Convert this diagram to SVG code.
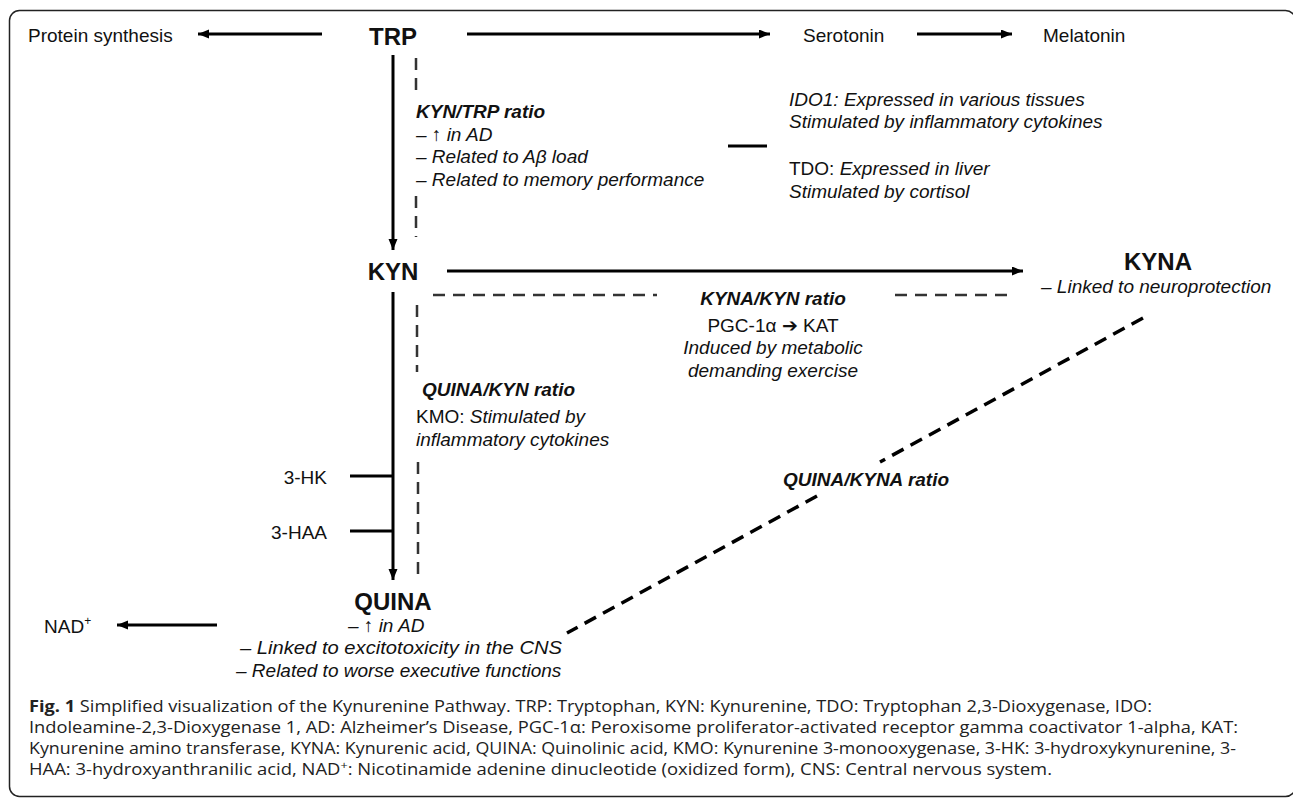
<svg xmlns="http://www.w3.org/2000/svg" width="1293" height="799" viewBox="0 0 1293 799">
<defs>
<marker id="ah" markerUnits="userSpaceOnUse" markerWidth="12" markerHeight="10" refX="11" refY="4.5" orient="auto">
<path d="M0,0 L11,4.5 L0,9 z" fill="#000"/>
</marker>
<style>
.t{font-family:"Liberation Sans",Arial,sans-serif;font-size:19px;fill:#111}
.b{font-weight:bold;font-size:24px}
.i{font-style:italic}
.bi{font-style:italic;font-weight:bold}
.n{font-style:normal}
.cap{font-family:"Open Sans","Noto Sans",sans-serif;font-size:16px;fill:#222}
.ln{stroke:#000;stroke-width:3;fill:none}
.arr{stroke:#000;stroke-width:3;fill:none;marker-end:url(#ah)}
.dsh{stroke:#333;stroke-width:2.5;fill:none;stroke-dasharray:12 8}
.dg{stroke:#000;stroke-width:3.5;fill:none;stroke-dasharray:13 8}
</style>
</defs>
<rect x="9.5" y="10.5" width="1286" height="786" rx="10" fill="#fff" stroke="#222" stroke-width="1.5"/>

<g id="connectors">
<line class="arr" x1="322" y1="34" x2="198" y2="34"/>
<line class="arr" x1="467" y1="34" x2="770" y2="34"/>
<line class="arr" x1="917" y1="34" x2="1012" y2="34"/>
<line class="arr" x1="393" y1="55" x2="393" y2="250"/>
<line class="dsh" x1="416" y1="58" x2="416" y2="96"/>
<line class="dsh" x1="416" y1="196" x2="416" y2="237"/>
<line class="ln" x1="728" y1="146" x2="767" y2="146"/>
<line class="arr" x1="447" y1="271" x2="1023" y2="271"/>
<line class="dsh" x1="433" y1="295" x2="657" y2="295"/>
<line class="dsh" x1="895" y1="295" x2="1012" y2="295"/>
<line class="arr" x1="393" y1="292" x2="393" y2="580"/>
<line class="dsh" x1="417" y1="305" x2="417" y2="372"/>
<line class="dsh" x1="418" y1="462" x2="418" y2="580"/>
<line class="ln" x1="350" y1="476" x2="393" y2="476"/>
<line class="ln" x1="350" y1="531" x2="393" y2="531"/>
<line class="arr" x1="217" y1="625" x2="117" y2="625"/>
<line class="dg" x1="1143" y1="318" x2="880" y2="462"/>
<line class="dg" x1="817" y1="496" x2="567" y2="633"/>
</g>

<g id="protein-synthesis"><text class="t" x="28" y="42">Protein synthesis</text></g>
<g id="trp"><text class="t b" x="393" y="45" text-anchor="middle">TRP</text></g>
<g id="serotonin"><text class="t" x="803" y="42">Serotonin</text></g>
<g id="melatonin"><text class="t" x="1043" y="42">Melatonin</text></g>

<g id="kyn-trp-ratio">
<text class="t bi" x="416" y="118">KYN/TRP ratio</text>
<text class="t i" x="416" y="141">– <tspan class="n">↑</tspan> in AD</text>
<text class="t i" x="416" y="163">– Related to Aβ load</text>
<text class="t i" x="416" y="186">– Related to memory performance</text>
</g>

<g id="enzymes">
<text class="t i" x="789" y="106">IDO1: Expressed in various tissues</text>
<text class="t i" x="789" y="128">Stimulated by inflammatory cytokines</text>
<text class="t" x="789" y="175">TDO: <tspan class="i">Expressed in liver</tspan></text>
<text class="t i" x="789" y="198">Stimulated by cortisol</text>
</g>

<g id="kyn"><text class="t b" x="393" y="280" text-anchor="middle">KYN</text></g>

<g id="kyna">
<text class="t b" x="1158" y="270" text-anchor="middle">KYNA</text>
<text class="t i" x="1041" y="293">– Linked to neuroprotection</text>
</g>

<g id="kyna-kyn-ratio">
<text class="t bi" x="773" y="305" text-anchor="middle">KYNA/KYN ratio</text>
<text class="t" x="773" y="332" text-anchor="middle">PGC-1α ➔ KAT</text>
<text class="t i" x="773" y="354" text-anchor="middle">Induced by metabolic</text>
<text class="t i" x="773" y="377" text-anchor="middle">demanding exercise</text>
</g>

<g id="quina-kyn-ratio">
<text class="t bi" x="422" y="396">QUINA/KYN ratio</text>
<text class="t" x="416" y="423">KMO: <tspan class="i">Stimulated by</tspan></text>
<text class="t i" x="416" y="446">inflammatory cytokines</text>
</g>

<g id="hk"><text class="t" x="327" y="484" text-anchor="end">3-HK</text></g>
<g id="haa"><text class="t" x="327" y="539" text-anchor="end">3-HAA</text></g>

<g id="quina-kyna-ratio"><text class="t bi" x="783" y="486">QUINA/KYNA ratio</text></g>

<g id="quina">
<text class="t b" x="393" y="610" text-anchor="middle">QUINA</text>
<text class="t i" x="348" y="632">– <tspan class="n">↑</tspan> in AD</text>
<text class="t i" x="240" y="654" textLength="322" lengthAdjust="spacingAndGlyphs">– Linked to excitotoxicity in the CNS</text>
<text class="t i" x="236" y="677">– Related to worse executive functions</text>
</g>

<g id="nad"><text class="t" x="44" y="633">NAD<tspan font-size="12" dy="-8">+</tspan></text></g>

<g id="caption">
<text class="cap" x="29" y="712" textLength="1123" lengthAdjust="spacingAndGlyphs"><tspan font-weight="bold">Fig. 1</tspan> Simplified visualization of the Kynurenine Pathway. TRP: Tryptophan, KYN: Kynurenine, TDO: Tryptophan 2,3-Dioxygenase, IDO:</text>
<text class="cap" x="29" y="733" textLength="1209" lengthAdjust="spacingAndGlyphs">Indoleamine-2,3-Dioxygenase 1, AD: Alzheimer’s Disease, PGC-1α: Peroxisome proliferator-activated receptor gamma coactivator 1-alpha, KAT:</text>
<text class="cap" x="29" y="754" textLength="1207" lengthAdjust="spacingAndGlyphs">Kynurenine amino transferase, KYNA: Kynurenic acid, QUINA: Quinolinic acid, KMO: Kynurenine 3-monooxygenase, 3-HK: 3-hydroxykynurenine, 3-</text>
<text class="cap" x="29" y="775" textLength="1023" lengthAdjust="spacingAndGlyphs">HAA: 3-hydroxyanthranilic acid, NAD<tspan font-size="11" dy="-6">+</tspan><tspan dy="6">: Nicotinamide adenine dinucleotide (oxidized form), CNS: Central nervous system.</tspan></text>
</g>
</svg>
